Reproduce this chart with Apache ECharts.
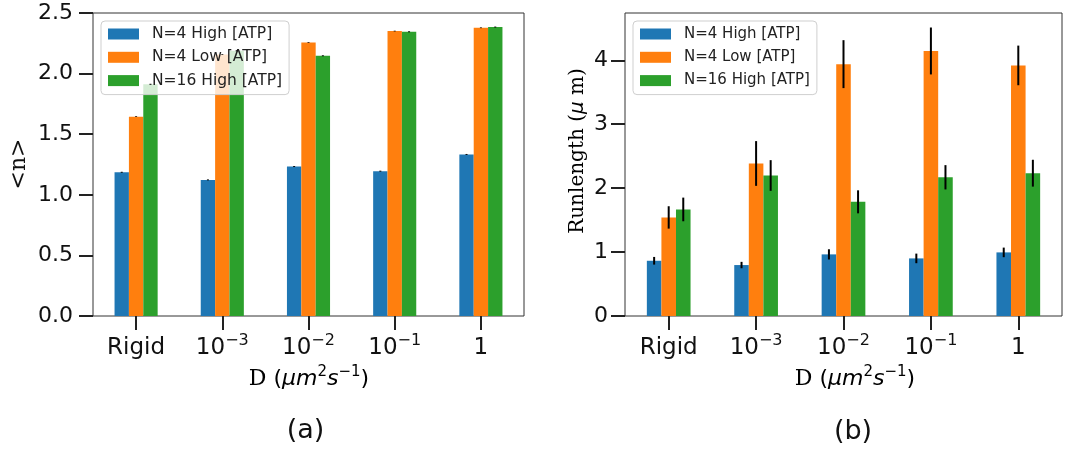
<!DOCTYPE html>
<html>
<head>
<meta charset="utf-8">
<script src="https://cdn.jsdelivr.net/npm/echarts@6/dist/echarts.min.js"></script>
<style>html,body{margin:0;padding:0;background:#fff;}#c{width:1083px;height:453px;}</style>
</head>
<body>
<div id="c"></div>
<script>
// ---- data ----
const categories = ['Rigid', '1e-3', '1e-2', '1e-1', '1'];
const tickLabels = ['{b|Rigid}', '{b|10}{s|\u22123}', '{b|10}{s|\u22122}', '{b|10}{s|\u22121}', '{b|1}'];
const seriesNames = ['N=4 High [ATP]', 'N=4 Low [ATP]', 'N=16 High [ATP]'];
const colors = ['#1f77b4', '#ff7f0e', '#2ca02c'];

// (a) <n>
const nHigh4 = [1.186, 1.123, 1.233, 1.195, 1.333];
const nLow4 = [1.645, 2.158, 2.257, 2.351, 2.378];
const nHigh16 = [1.912, 2.188, 2.147, 2.345, 2.384];
const nHigh4Err = [0.004, 0.004, 0.004, 0.004, 0.004];
const nLow4Err = [0.003, 0.003, 0.003, 0.003, 0.003];
const nHigh16Err = [0.004, 0.004, 0.004, 0.004, 0.004];
const leftTicks = [0, 0.5, 1.0, 1.5, 2.0, 2.5];

// (b) Runlength
const rlHigh4 = [0.864, 0.797, 0.964, 0.901, 0.995];
const rlLow4 = [1.542, 2.386, 3.94, 4.146, 3.92];
const rlHigh16 = [1.667, 2.198, 1.786, 2.17, 2.234];
const rlHigh4Err = [0.06, 0.05, 0.08, 0.075, 0.075];
const rlLow4Err = [0.175, 0.35, 0.375, 0.367, 0.31];
const rlHigh16Err = [0.185, 0.24, 0.18, 0.19, 0.21];
const rightTicks = [0, 1, 2, 3, 4];

// ---- chart ----
const SANS = 'DejaVu Sans';
const SERIF = 'DejaVu Serif';
const chart = echarts.init(document.getElementById('c'), null, {renderer: 'canvas'});

function xAxisCfg(gridIndex) {
  return {
    type: 'category', gridIndex, data: categories,
    axisLine: {show: false},
    axisTick: {show: true, alignWithLabel: true, length: 14, lineStyle: {color: '#222', width: 2}},
    axisLabel: {
      margin: 17, color: '#111', interval: 0,
      formatter: (v, i) => tickLabels[i],
      rich: {
        b: {fontFamily: SANS, fontSize: 23, lineHeight: 30, color: '#111'},
        s: {fontFamily: SANS, fontSize: 16, lineHeight: 16, verticalAlign: 'top', color: '#111'}
      }
    },
    splitLine: {show: false}
  };
}
function yAxisCfg(gridIndex, max, ticks, fmt, margin) {
  return {
    type: 'value', gridIndex, min: 0, max: max,
    axisLine: {show: false},
    axisTick: {show: true, length: 14, lineStyle: {color: '#222', width: 2}, customValues: ticks},
    axisLabel: {margin: margin, fontFamily: SANS, fontSize: 22, color: '#111', customValues: ticks, formatter: fmt},
    splitLine: {show: false}
  };
}
function barSeries(name, data, idx, xi) {
  return {
    type: 'bar', name, data, xAxisIndex: xi, yAxisIndex: xi,
    barWidth: '16.667%', barGap: '0%',
    itemStyle: {color: colors[idx]},
    emphasis: {disabled: true}
  };
}
function errSeries(vals, errs, idx, xi) {
  return {
    type: 'custom', name: 'err' + xi + '_' + idx, xAxisIndex: xi, yAxisIndex: xi,
    data: vals.map((v, i) => [i, v, errs[i]]),
    encode: {x: 0, y: 1},
    z: 5, silent: true,
    renderItem: function (params, api) {
      const i = api.value(0), v = api.value(1), e = api.value(2);
      const bw = api.size([1, 0])[0];
      const off = (idx - 1) * bw / 6;
      const p = api.coord([i, v + e]);
      const q = api.coord([i, v - e]);
      return {type: 'line', shape: {x1: p[0] + off, y1: p[1], x2: q[0] + off, y2: q[1]},
        style: {stroke: '#000', lineWidth: 2}};
    }
  };
}
function legendCfg(left, fs) {
  return {
    data: seriesNames, orient: 'vertical', left: left, top: 21,
    icon: 'rect', itemWidth: 31, itemHeight: 11, itemGap: 7.3,
    padding: [5, 7, 6, 7],
    backgroundColor: 'rgba(255,255,255,0.8)', borderColor: '#cfcfcf', borderWidth: 1, borderRadius: 4,
    formatter: name => '{t|' + name + '}',
    textStyle: {fontFamily: SANS, fontSize: fs, color: '#222', lineHeight: 16,
      rich: {t: {fontFamily: SANS, fontSize: fs, color: '#222', lineHeight: 16, padding: [0, 0, 0, 8]}}},
    selectedMode: false
  };
}

const option = {
  backgroundColor: '#fff',
  animation: false,
  grid: [
    {left: 93, top: 13, width: 431, height: 303, show: true, borderColor: '#333', borderWidth: 1, backgroundColor: 'transparent'},
    {left: 625, top: 13, width: 437, height: 303, show: true, borderColor: '#333', borderWidth: 1, backgroundColor: 'transparent'}
  ],
  xAxis: [xAxisCfg(0), xAxisCfg(1)],
  yAxis: [
    yAxisCfg(0, 2.5, leftTicks, v => v.toFixed(1), 20),
    yAxisCfg(1, 4.74, rightTicks, v => String(v), 17)
  ],
  legend: [legendCfg(101, 15.5), legendCfg(633, 15)],
  series: [
    barSeries(seriesNames[0], nHigh4, 0, 0),
    barSeries(seriesNames[1], nLow4, 1, 0),
    barSeries(seriesNames[2], nHigh16, 2, 0),
    barSeries(seriesNames[0], rlHigh4, 0, 1),
    barSeries(seriesNames[1], rlLow4, 1, 1),
    barSeries(seriesNames[2], rlHigh16, 2, 1),
    errSeries(nHigh4, nHigh4Err, 0, 0),
    errSeries(nLow4, nLow4Err, 1, 0),
    errSeries(nHigh16, nHigh16Err, 2, 0),
    errSeries(rlHigh4, rlHigh4Err, 0, 1),
    errSeries(rlLow4, rlLow4Err, 1, 1),
    errSeries(rlHigh16, rlHigh16Err, 2, 1)
  ],
  graphic: [
    {type: 'text', x: 19, y: 164, rotation: Math.PI / 2,
      style: {text: '<n>', font: '22px "DejaVu Serif"', fill: '#111', align: 'center', verticalAlign: 'middle', textAlign: 'center', textVerticalAlign: 'middle'}},
    {type: 'text', x: 578, y: 151, rotation: Math.PI / 2,
      style: {text: '{s|Runlength (}{i|\u03bc}{s| m)}', align: 'center', verticalAlign: 'middle', textAlign: 'center', textVerticalAlign: 'middle',
        rich: {s: {fontFamily: SERIF, fontSize: 20, color: '#111'}, i: {fontFamily: SANS, fontStyle: 'italic', fontSize: 20, color: '#111'}}}},
    {type: 'text', x: 309, y: 379,
      style: {text: '{s|D }{n|(}{i|\u03bcm}{p|2}{i|s}{p|\u22121}{n|)}', align: 'center', verticalAlign: 'middle', textAlign: 'center', textVerticalAlign: 'middle',
        rich: {s: {fontFamily: SERIF, fontSize: 22, lineHeight: 28, color: '#111'}, n: {fontFamily: SANS, fontSize: 22, lineHeight: 28, color: '#111'},
          i: {fontFamily: SANS, fontStyle: 'italic', fontSize: 22, lineHeight: 28, color: '#111'},
          p: {fontFamily: SANS, fontSize: 15, lineHeight: 15, verticalAlign: 'top', color: '#111'}}}},
    {type: 'text', x: 855, y: 379,
      style: {text: '{s|D }{n|(}{i|\u03bcm}{p|2}{i|s}{p|\u22121}{n|)}', align: 'center', verticalAlign: 'middle', textAlign: 'center', textVerticalAlign: 'middle',
        rich: {s: {fontFamily: SERIF, fontSize: 22, lineHeight: 28, color: '#111'}, n: {fontFamily: SANS, fontSize: 22, lineHeight: 28, color: '#111'},
          i: {fontFamily: SANS, fontStyle: 'italic', fontSize: 22, lineHeight: 28, color: '#111'},
          p: {fontFamily: SANS, fontSize: 15, lineHeight: 15, verticalAlign: 'top', color: '#111'}}}},
    {type: 'text', x: 305.5, y: 431,
      style: {text: '(a)', font: '27px "DejaVu Sans"', fill: '#111', align: 'center', verticalAlign: 'middle', textAlign: 'center', textVerticalAlign: 'middle'}},
    {type: 'text', x: 853, y: 432,
      style: {text: '(b)', font: '27px "DejaVu Sans"', fill: '#111', align: 'center', verticalAlign: 'middle', textAlign: 'center', textVerticalAlign: 'middle'}}
  ]
};
chart.setOption(option);
</script>
</body>
</html>
